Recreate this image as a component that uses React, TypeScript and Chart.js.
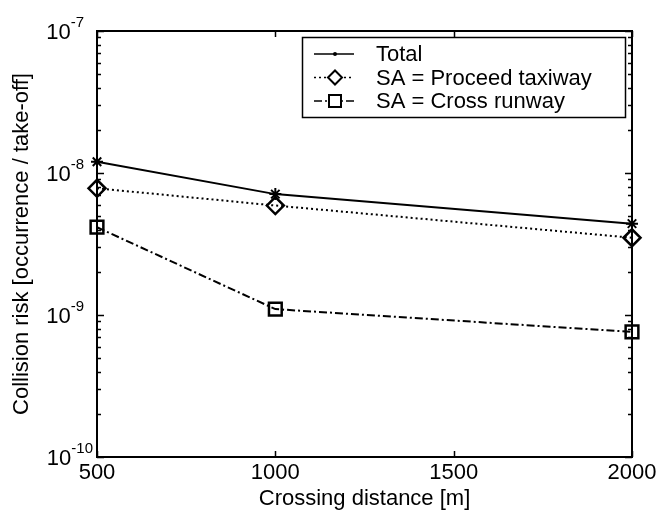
import React, { useEffect, useRef } from 'react';
import { Chart, registerables } from 'chart.js';

Chart.register(...registerables);

// ---- data ----
const distances = [500, 1000, 2000];
const totalRisk = [1.2e-8, 7.1e-9, 4.4e-9];
const proceedTaxiwayRisk = [7.8e-9, 5.9e-9, 3.5e-9];
const crossRunwayRisk = [4.15e-9, 1.1e-9, 7.6e-10];
const seriesLabels = ['Total', 'SA = Proceed taxiway', 'SA = Cross runway'];
const xTickValues = [500, 1000, 1500, 2000];
const yDecadeExponents = [-10, -9, -8, -7];
const xTitle = 'Crossing distance [m]';
const yTitle = 'Collision risk [occurrence / take-off]';

const FONT = '"Liberation Sans", Arial, Helvetica, sans-serif';
const FS = 22;

function drawMarker(ctx: CanvasRenderingContext2D, kind: string, x: number, y: number, r: number) {
  ctx.save();
  ctx.setLineDash([]);
  ctx.strokeStyle = '#000';
  ctx.fillStyle = '#000';
  ctx.lineWidth = 2;
  ctx.beginPath();
  if (kind === 'diamond') {
    ctx.moveTo(x - r, y);
    ctx.lineTo(x, y - r);
    ctx.lineTo(x + r, y);
    ctx.lineTo(x, y + r);
    ctx.closePath();
    ctx.fillStyle = '#fff';
    ctx.fill();
    ctx.stroke();
  } else if (kind === 'square') {
    ctx.rect(x - r, y - r, 2 * r, 2 * r);
    ctx.fillStyle = '#fff';
    ctx.fill();
    ctx.stroke();
  } else {
    ctx.arc(x, y, r, 0, Math.PI * 2);
    ctx.fill();
  }
  ctx.restore();
}

const framePlugin = {
  id: 'matlabFrame',
  afterDraw(chart: any) {
    const ctx: CanvasRenderingContext2D = chart.ctx;
    const { left, right, top, bottom } = chart.chartArea;
    const xs = chart.scales.x;
    const ys = chart.scales.y;
    ctx.save();
    ctx.strokeStyle = '#000';
    ctx.lineWidth = 2;
    ctx.setLineDash([]);
    ctx.strokeRect(left, top, right - left, bottom - top);

    // x ticks (inward, top & bottom)
    ctx.lineWidth = 1.5;
    ctx.beginPath();
    for (const v of xTickValues) {
      const px = Math.round(xs.getPixelForValue(v)) + 0.5;
      ctx.moveTo(px, bottom);
      ctx.lineTo(px, bottom - 6);
      ctx.moveTo(px, top);
      ctx.lineTo(px, top + 6);
    }
    // y ticks (log, inward, left & right)
    for (const d of yDecadeExponents) {
      for (let m = 1; m <= 9; m++) {
        if (d === yDecadeExponents[yDecadeExponents.length - 1] && m > 1) break;
        const v = m * Math.pow(10, d);
        const py = Math.round(ys.getPixelForValue(v)) + 0.5;
        const len = m === 1 ? 7 : 4;
        ctx.moveTo(left, py);
        ctx.lineTo(left + len, py);
        ctx.moveTo(right, py);
        ctx.lineTo(right - len, py);
      }
    }
    ctx.stroke();

    // y tick labels 10^n
    ctx.fillStyle = '#000';
    for (const d of yDecadeExponents) {
      const py = ys.getPixelForValue(Math.pow(10, d));
      const expText = String(d);
      ctx.font = `15px ${FONT}`;
      const expW = ctx.measureText(expText).width;
      const xEnd = expText.length > 2 ? left - 4 : left - 13;
      ctx.textAlign = 'left';
      ctx.textBaseline = 'alphabetic';
      ctx.fillText(expText, xEnd - expW, py - 4);
      ctx.font = `${FS}px ${FONT}`;
      ctx.textAlign = 'right';
      ctx.fillText('10', xEnd - expW, py + 8);
    }

    // legend
    const boxW = 323;
    const boxH = 80;
    const bx = right - 7 - boxW;
    const by = top + 6;
    ctx.fillStyle = '#fff';
    ctx.fillRect(bx, by, boxW, boxH);
    ctx.lineWidth = 1.5;
    ctx.strokeStyle = '#000';
    ctx.strokeRect(bx + 0.5, by + 0.5, boxW, boxH);
    const markers = ['dot', 'diamond', 'square'];
    const markerR = [2, 7, 6];
    chart.data.datasets.forEach((ds: any, i: number) => {
      const ry = by + 17 + i * 23.5;
      ctx.save();
      ctx.strokeStyle = '#000';
      ctx.lineWidth = 1.5;
      ctx.setLineDash(ds.borderDash || []);
      ctx.beginPath();
      ctx.moveTo(bx + 12, ry);
      ctx.lineTo(bx + 52, ry);
      ctx.stroke();
      ctx.restore();
      drawMarker(ctx, markers[i], bx + 33, ry, markerR[i]);
      ctx.fillStyle = '#000';
      ctx.font = `${FS}px ${FONT}`;
      ctx.textAlign = 'left';
      ctx.textBaseline = 'middle';
      ctx.fillText(ds.label, bx + 74, ry + 1);
    });
    ctx.restore();
  },
};

export default function App() {
  const canvasRef = useRef<HTMLCanvasElement | null>(null);

  useEffect(() => {
    if (!canvasRef.current) return;
    const toPts = (ys: number[]) => distances.map((x, i) => ({ x, y: ys[i] }));
    const chart = new Chart(canvasRef.current, {
      type: 'line',
      data: {
        datasets: [
          {
            label: seriesLabels[0],
            data: toPts(totalRisk),
            borderColor: '#000',
            backgroundColor: '#000',
            borderWidth: 2,
            pointStyle: 'star',
            pointRadius: 6,
            pointBorderWidth: 2,
            pointBorderColor: '#000',
            fill: false,
            clip: false,
          } as any,
          {
            label: seriesLabels[1],
            data: toPts(proceedTaxiwayRisk),
            borderColor: '#000',
            backgroundColor: 'rgba(255,255,255,0)',
            borderWidth: 2,
            borderDash: [2, 3],
            pointStyle: 'rectRot',
            pointRadius: 8.5,
            pointBorderWidth: 2.5,
            pointBorderColor: '#000',
            pointBackgroundColor: 'rgba(255,255,255,0)',
            fill: false,
            clip: false,
          } as any,
          {
            label: seriesLabels[2],
            data: toPts(crossRunwayRisk),
            borderColor: '#000',
            backgroundColor: 'rgba(255,255,255,0)',
            borderWidth: 2,
            borderDash: [8, 3, 2, 3],
            pointStyle: 'rect',
            pointRadius: 9,
            pointBorderWidth: 2.5,
            pointBorderColor: '#000',
            pointBackgroundColor: 'rgba(255,255,255,0)',
            fill: false,
            clip: false,
          } as any,
        ],
      },
      options: {
        responsive: false,
        animation: false,
        devicePixelRatio: 1,
        layout: { padding: { top: 31, right: 30, left: 0, bottom: 0 } },
        plugins: {
          legend: { display: false },
          tooltip: { enabled: false },
        },
        scales: {
          x: {
            type: 'linear',
            min: 500,
            max: 2000,
            afterBuildTicks: (scale: any) => {
              scale.ticks = xTickValues.map((v) => ({ value: v }));
            },
            ticks: {
              color: '#000',
              font: { family: FONT, size: FS },
              padding: 3,
              maxRotation: 0,
              autoSkip: false,
              callback: (v: any) => String(v),
            },
            grid: { display: false, drawTicks: false },
            border: { display: false },
            title: {
              display: true,
              text: xTitle,
              color: '#000',
              font: { family: FONT, size: FS },
              padding: { top: 0, bottom: 0 },
            },
            afterFit: (scale: any) => {
              scale.height = 55;
              scale.paddingLeft = 0;
              scale.paddingRight = 0;
            },
          },
          y: {
            type: 'logarithmic',
            min: 1e-10,
            max: 1e-7,
            ticks: { display: false },
            grid: { display: false, drawTicks: false },
            border: { display: false },
            title: {
              display: true,
              text: yTitle,
              color: '#000',
              font: { family: FONT, size: FS },
              padding: { top: 9, bottom: 0 },
            },
            afterFit: (scale: any) => {
              scale.width = 97;
              scale.paddingTop = 0;
              scale.paddingBottom = 0;
            },
          },
        },
      } as any,
      plugins: [framePlugin],
    });
    return () => chart.destroy();
  }, []);

  return (
    <div style={{ position: 'fixed', left: 0, top: 0, width: 662, height: 512, background: '#fff' }}>
      <canvas ref={canvasRef} width={662} height={512} />
    </div>
  );
}
